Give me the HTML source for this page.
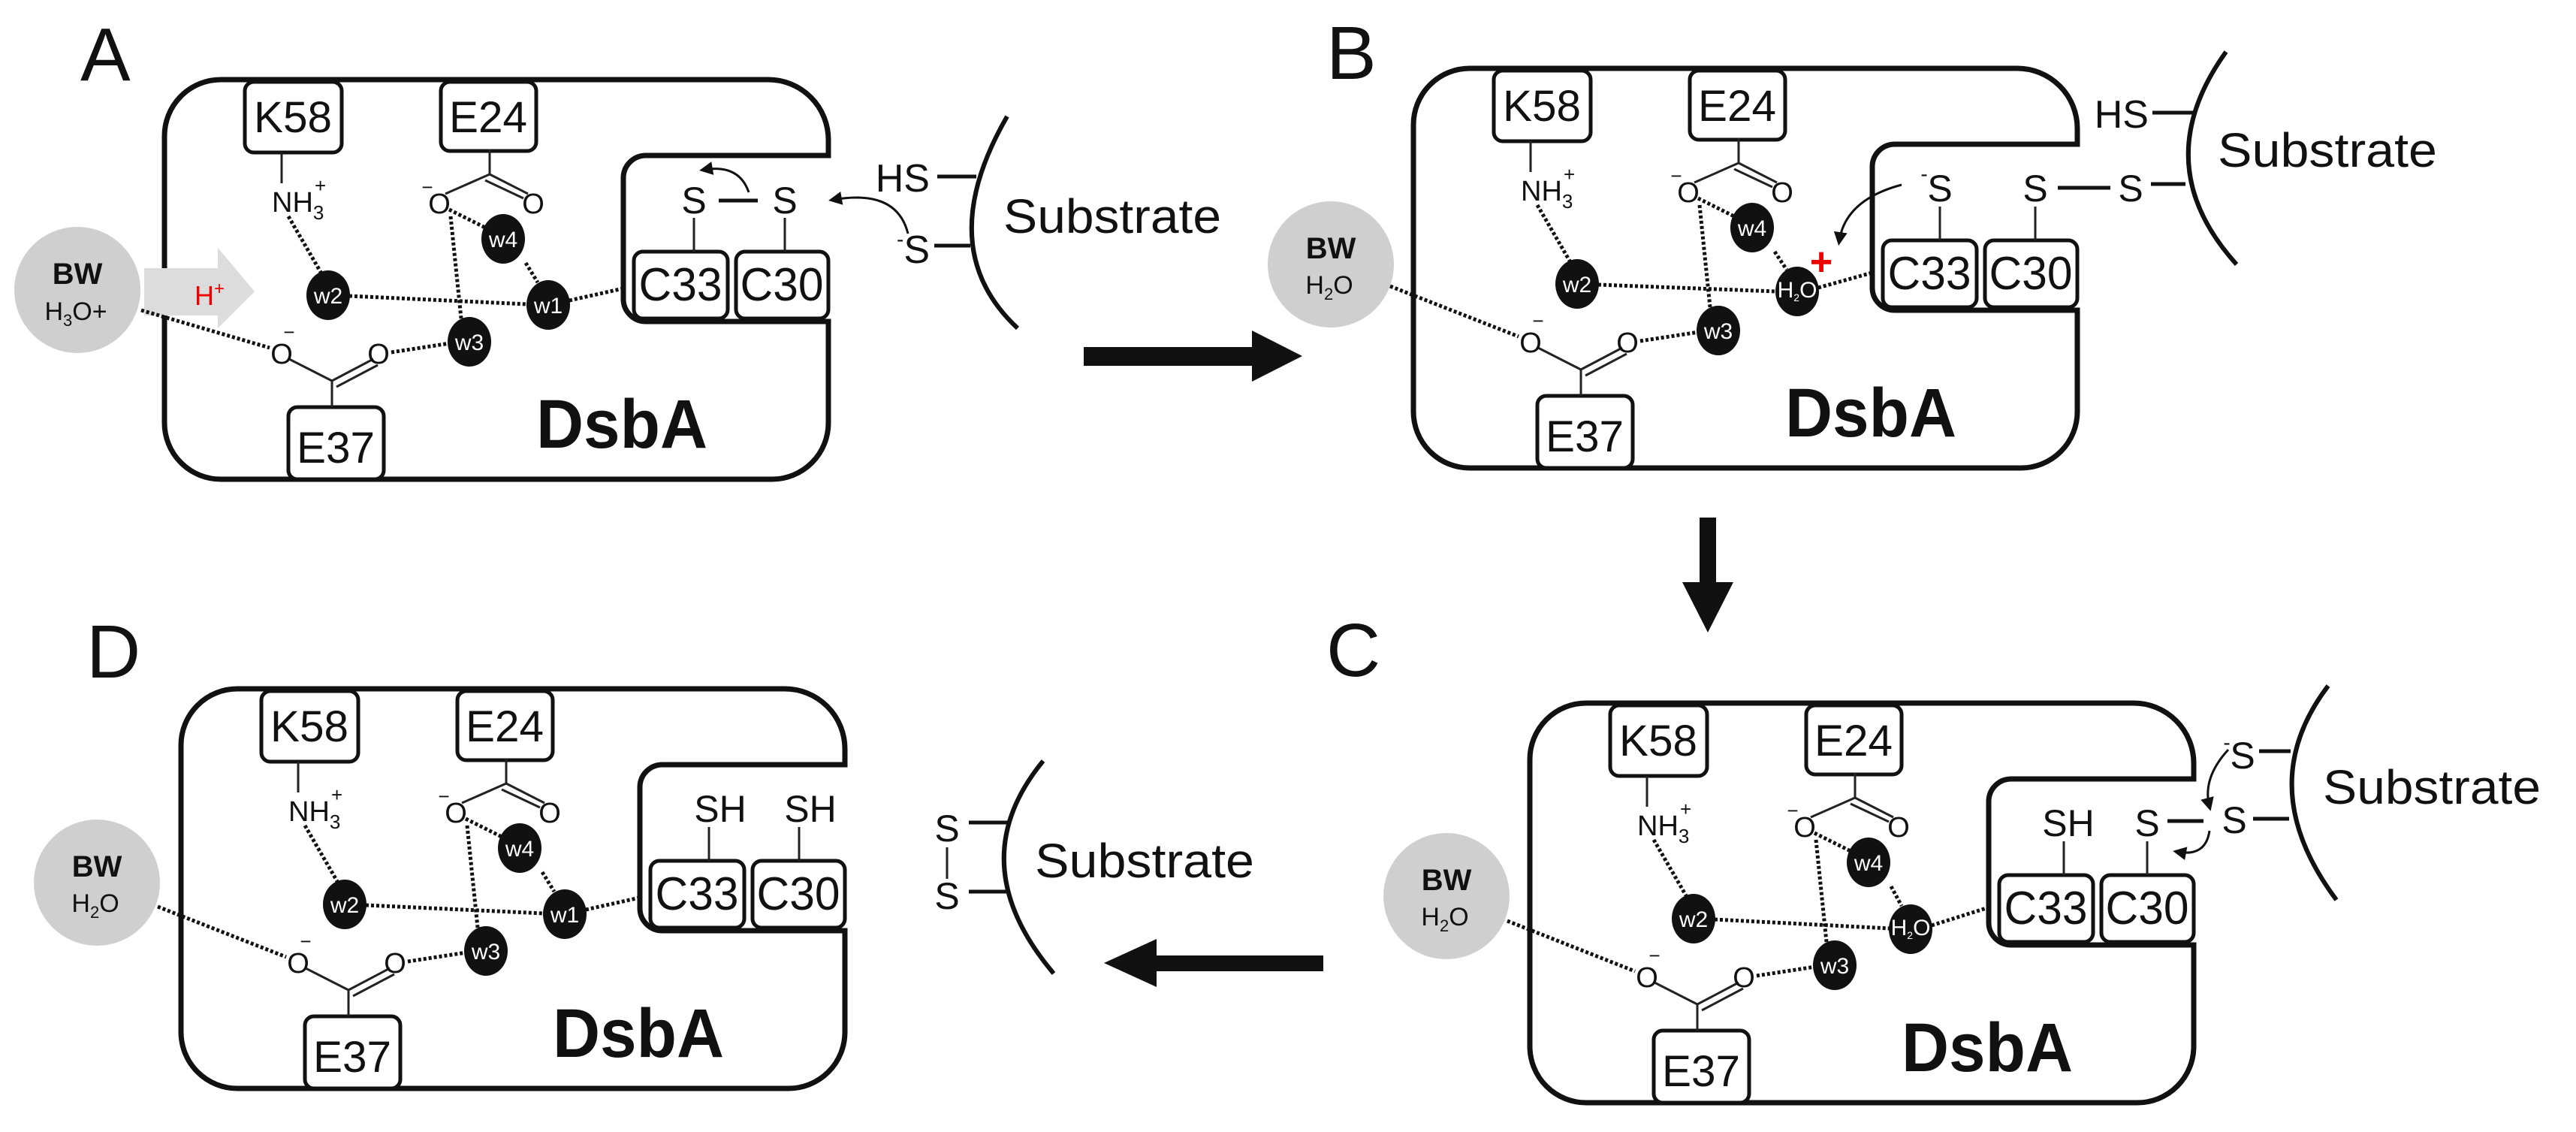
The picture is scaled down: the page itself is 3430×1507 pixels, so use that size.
<!DOCTYPE html>
<html><head><meta charset="utf-8"><style>
html,body{margin:0;padding:0;background:#fff}
svg{display:block}
text{font-family:"Liberation Sans",Arial,sans-serif;fill:#111}
.box{fill:#fff;stroke:#111;stroke-width:7}
.res{fill:#fff;stroke:#111;stroke-width:5}
.ln{stroke:#222;stroke-width:3;fill:none}
.bd{stroke:#111;stroke-width:5;fill:none}
.dot{stroke:#111;stroke-width:5;stroke-dasharray:4 3;fill:none}
.w{fill:#111}
.wt{fill:#fff;font-size:30px;text-anchor:middle}
.bw{fill:#cfcfcf}
.mid{text-anchor:middle}
.arc{stroke:#111;stroke-width:6;fill:none}
.ca{stroke:#111;stroke-width:3;fill:none;marker-end:url(#ah)}
</style></head><body>
<svg width="3430" height="1507" viewBox="0 0 3430 1507" xmlns="http://www.w3.org/2000/svg">
<defs>
<marker id="ah" markerWidth="6" markerHeight="6" refX="4" refY="3" orient="auto" markerUnits="strokeWidth">
<path d="M0,0 L6,3 L0,6 Z" fill="#111"/></marker>
</defs>

<!-- labels -->
<text x="107" y="107" font-size="100">A</text>
<text x="1766" y="105" font-size="100">B</text>
<text x="1766" y="900" font-size="100">C</text>
<text x="115" y="902" font-size="100">D</text>

<!-- big arrows -->
<polygon points="1443,462 1667,462 1667,440 1734,474 1667,508 1667,487 1443,487" fill="#111"/>
<polygon points="2263,689 2285,689 2285,775 2308,775 2274,842 2240,775 2263,775" fill="#111"/>
<polygon points="1762,1272 1540,1272 1540,1250 1470,1282 1540,1314 1540,1293 1762,1293" fill="#111"/>

<!-- ================= PANEL A ================= -->
<g transform="translate(219,106)">
<path class="box" d="M75,0 H804 A80,80 0 0 1 884,80 V101 H641 A30,30 0 0 0 611,131 V292 A30,30 0 0 0 641,322 H884 V457 A75,75 0 0 1 809,532 H75 A75,75 0 0 1 0,457 V75 A75,75 0 0 1 75,0 Z"/>
<circle class="bw" cx="-116" cy="280" r="84"/>
<polygon points="-27,251 71,251 71,224 120,282 71,331 71,314 -27,314" fill="#dcdcdc"/>
<text x="40" y="300" font-size="36" fill="#e00" style="fill:#e00">H<tspan font-size="24" dy="-14">+</tspan></text>
<text x="-116" y="272" font-size="40" font-weight="bold" class="mid">BW</text>
<text x="-118" y="320" font-size="34" class="mid">H<tspan font-size="22" dy="8">3</tspan><tspan dy="-8">O+</tspan></text>
<rect class="res" x="107" y="3" width="129" height="94" rx="12"/>
<rect class="res" x="368" y="3" width="127" height="92" rx="12"/>
<rect class="res" x="165" y="436" width="127" height="96" rx="12"/>
<rect class="res" x="625" y="229" width="125" height="89" rx="12"/>
<rect class="res" x="761" y="229" width="123" height="89" rx="12"/>
<text x="171" y="70" font-size="58" class="mid" textLength="104" lengthAdjust="spacingAndGlyphs">K58</text>
<text x="431" y="70" font-size="58" class="mid" textLength="104" lengthAdjust="spacingAndGlyphs">E24</text>
<text x="228" y="510" font-size="58" class="mid" textLength="104" lengthAdjust="spacingAndGlyphs">E37</text>
<text x="687" y="294" font-size="62" class="mid" textLength="111" lengthAdjust="spacingAndGlyphs">C33</text>
<text x="822" y="294" font-size="62" class="mid" textLength="111" lengthAdjust="spacingAndGlyphs">C30</text>
<line class="ln" x1="156" y1="97" x2="156" y2="138"/>
<text x="143" y="176" font-size="38">NH<tspan font-size="26" dy="10">3</tspan></text>
<text x="200" y="150" font-size="26">+</text>
<line class="ln" x1="433" y1="93" x2="433" y2="126"/>
<line class="ln" x1="433" y1="126" x2="374" y2="152"/>
<line class="ln" x1="433" y1="126" x2="484" y2="152"/><line class="ln" x1="427" y1="134" x2="478" y2="158"/>
<text x="366" y="178" font-size="38" class="mid">O</text><text x="350" y="152" font-size="26" class="mid">−</text>
<text x="491" y="178" font-size="38" class="mid">O</text>
<line class="ln" x1="223" y1="436" x2="223" y2="401"/>
<line class="ln" x1="223" y1="401" x2="166" y2="372"/>
<line class="ln" x1="223" y1="401" x2="278" y2="372"/><line class="ln" x1="229" y1="409" x2="284" y2="380"/>
<text x="156" y="378" font-size="38" class="mid">O</text><text x="166" y="345" font-size="26" class="mid">−</text>
<text x="285" y="378" font-size="38" class="mid">O</text>
<line class="dot" x1="-31" y1="307" x2="140" y2="357"/>
<line class="dot" x1="165" y1="182" x2="209" y2="258"/>
<line class="dot" x1="246" y1="288" x2="483" y2="299"/>
<line class="dot" x1="381" y1="182" x2="395" y2="318"/>
<line class="dot" x1="379" y1="173" x2="429" y2="198"/>
<line class="dot" x1="481" y1="244" x2="497" y2="270"/>
<line class="dot" x1="539" y1="294" x2="611" y2="278"/>
<line class="dot" x1="302" y1="363" x2="380" y2="351"/>
<ellipse class="w" cx="218" cy="287" rx="29" ry="33"/><text class="wt" x="218" y="298">w2</text>
<ellipse class="w" cx="511" cy="300" rx="29" ry="33"/><text class="wt" x="511" y="311">w1</text>
<ellipse class="w" cx="406" cy="349" rx="29" ry="33"/><text class="wt" x="406" y="360">w3</text>
<ellipse class="w" cx="451" cy="212" rx="29" ry="33"/><text class="wt" x="451" y="223">w4</text>
<text x="495" y="490" font-size="92" font-weight="bold" textLength="228" lengthAdjust="spacingAndGlyphs">DsbA</text>
<text x="705" y="178" font-size="50" class="mid">S</text>
<text x="826" y="178" font-size="50" class="mid">S</text>
<line class="bd" x1="738" y1="161" x2="790" y2="161"/>
<line class="ln" x1="705" y1="184" x2="705" y2="229"/>
<line class="ln" x1="826" y1="184" x2="826" y2="229"/>
<path class="ca" d="M778,150 Q765,112 718,120"/>
<path class="ca" d="M990,205 Q975,145 890,160"/>
</g>
<path class="arc" d="M1341,155 Q1240,330 1355,437"/>
<line class="bd" x1="1248" y1="235" x2="1300" y2="235"/>
<line class="bd" x1="1244" y1="327" x2="1292" y2="327"/>
<text x="1238" y="255" font-size="52" text-anchor="end">HS</text>
<text x="1238" y="350" font-size="52" text-anchor="end"><tspan font-size="28" dy="-22">-</tspan><tspan dy="22">S</tspan></text>
<text x="1336" y="310" font-size="64" textLength="290" lengthAdjust="spacingAndGlyphs">Substrate</text>

<!-- ================= PANEL B ================= -->
<g transform="translate(1882,91)">
<path class="box" d="M75,0 H804 A80,80 0 0 1 884,80 V101 H641 A30,30 0 0 0 611,131 V292 A30,30 0 0 0 641,322 H884 V457 A75,75 0 0 1 809,532 H75 A75,75 0 0 1 0,457 V75 A75,75 0 0 1 75,0 Z"/>
<circle class="bw" cx="-110" cy="261" r="84"/>
<text x="-110" y="253" font-size="40" font-weight="bold" class="mid">BW</text>
<text x="-112" y="300" font-size="34" class="mid">H<tspan font-size="22" dy="8">2</tspan><tspan dy="-8">O</tspan></text>
<rect class="res" x="107" y="3" width="129" height="94" rx="12"/>
<rect class="res" x="368" y="3" width="127" height="92" rx="12"/>
<rect class="res" x="165" y="436" width="127" height="96" rx="12"/>
<rect class="res" x="625" y="229" width="125" height="89" rx="12"/>
<rect class="res" x="761" y="229" width="123" height="89" rx="12"/>
<text x="171" y="70" font-size="58" class="mid" textLength="104" lengthAdjust="spacingAndGlyphs">K58</text>
<text x="431" y="70" font-size="58" class="mid" textLength="104" lengthAdjust="spacingAndGlyphs">E24</text>
<text x="228" y="510" font-size="58" class="mid" textLength="104" lengthAdjust="spacingAndGlyphs">E37</text>
<text x="687" y="294" font-size="62" class="mid" textLength="111" lengthAdjust="spacingAndGlyphs">C33</text>
<text x="822" y="294" font-size="62" class="mid" textLength="111" lengthAdjust="spacingAndGlyphs">C30</text>
<line class="ln" x1="156" y1="97" x2="156" y2="138"/>
<text x="143" y="176" font-size="38">NH<tspan font-size="26" dy="10">3</tspan></text>
<text x="200" y="150" font-size="26">+</text>
<line class="ln" x1="433" y1="93" x2="433" y2="126"/>
<line class="ln" x1="433" y1="126" x2="374" y2="152"/>
<line class="ln" x1="433" y1="126" x2="484" y2="152"/><line class="ln" x1="427" y1="134" x2="478" y2="158"/>
<text x="366" y="178" font-size="38" class="mid">O</text><text x="350" y="152" font-size="26" class="mid">−</text>
<text x="491" y="178" font-size="38" class="mid">O</text>
<line class="ln" x1="223" y1="436" x2="223" y2="401"/>
<line class="ln" x1="223" y1="401" x2="166" y2="372"/>
<line class="ln" x1="223" y1="401" x2="278" y2="372"/><line class="ln" x1="229" y1="409" x2="284" y2="380"/>
<text x="156" y="378" font-size="38" class="mid">O</text><text x="166" y="345" font-size="26" class="mid">−</text>
<text x="285" y="378" font-size="38" class="mid">O</text>
<line class="dot" x1="-31" y1="290" x2="140" y2="357"/>
<line class="dot" x1="165" y1="182" x2="209" y2="258"/>
<line class="dot" x1="246" y1="288" x2="483" y2="297"/>
<line class="dot" x1="381" y1="182" x2="395" y2="318"/>
<line class="dot" x1="379" y1="173" x2="429" y2="198"/>
<line class="dot" x1="481" y1="244" x2="497" y2="268"/>
<line class="dot" x1="539" y1="292" x2="611" y2="272"/>
<line class="dot" x1="302" y1="363" x2="380" y2="351"/>
<ellipse class="w" cx="218" cy="287" rx="29" ry="33"/><text class="wt" x="218" y="298">w2</text>
<ellipse class="w" cx="511" cy="297" rx="29" ry="33"/><text class="wt" x="511" y="305" font-size="22">H<tspan font-size="14" dy="5">2</tspan><tspan dy="-5">O</tspan></text>
<ellipse class="w" cx="406" cy="349" rx="29" ry="33"/><text class="wt" x="406" y="360">w3</text>
<ellipse class="w" cx="451" cy="212" rx="29" ry="33"/><text class="wt" x="451" y="223">w4</text>
<text x="543" y="275" font-size="52" font-weight="bold" class="mid" style="fill:#e00">+</text>
<text x="495" y="490" font-size="92" font-weight="bold" textLength="228" lengthAdjust="spacingAndGlyphs">DsbA</text>
<text x="701" y="177" font-size="50" class="mid">S</text><text x="680" y="150" font-size="28" class="mid">-</text>
<text x="828" y="177" font-size="50" class="mid">S</text>
<line class="bd" x1="858" y1="159" x2="928" y2="159"/>
<line class="ln" x1="701" y1="184" x2="701" y2="229"/>
<line class="ln" x1="828" y1="184" x2="828" y2="229"/>
<path class="ca" d="M650,155 Q575,175 567,230"/>
</g>
<text x="2837" y="268" font-size="50" class="mid">S</text>
<path class="arc" d="M2964,69 Q2857,218 2978,352"/>
<line class="bd" x1="2866" y1="150" x2="2920" y2="150"/>
<line class="bd" x1="2864" y1="245" x2="2910" y2="245"/>
<text x="2861" y="170" font-size="52" text-anchor="end">HS</text>
<text x="2953" y="222" font-size="64" textLength="292" lengthAdjust="spacingAndGlyphs">Substrate</text>

<!-- ================= PANEL C ================= -->
<g transform="translate(2037,936)">
<path class="box" d="M75,0 H804 A80,80 0 0 1 884,80 V101 H641 A30,30 0 0 0 611,131 V292 A30,30 0 0 0 641,322 H884 V457 A75,75 0 0 1 809,532 H75 A75,75 0 0 1 0,457 V75 A75,75 0 0 1 75,0 Z"/>
<circle class="bw" cx="-111" cy="257" r="84"/>
<text x="-111" y="249" font-size="40" font-weight="bold" class="mid">BW</text>
<text x="-113" y="296" font-size="34" class="mid">H<tspan font-size="22" dy="8">2</tspan><tspan dy="-8">O</tspan></text>
<rect class="res" x="107" y="3" width="129" height="94" rx="12"/>
<rect class="res" x="368" y="3" width="127" height="92" rx="12"/>
<rect class="res" x="165" y="436" width="127" height="96" rx="12"/>
<rect class="res" x="625" y="229" width="125" height="89" rx="12"/>
<rect class="res" x="761" y="229" width="123" height="89" rx="12"/>
<text x="171" y="70" font-size="58" class="mid" textLength="104" lengthAdjust="spacingAndGlyphs">K58</text>
<text x="431" y="70" font-size="58" class="mid" textLength="104" lengthAdjust="spacingAndGlyphs">E24</text>
<text x="228" y="510" font-size="58" class="mid" textLength="104" lengthAdjust="spacingAndGlyphs">E37</text>
<text x="687" y="294" font-size="62" class="mid" textLength="111" lengthAdjust="spacingAndGlyphs">C33</text>
<text x="822" y="294" font-size="62" class="mid" textLength="111" lengthAdjust="spacingAndGlyphs">C30</text>
<line class="ln" x1="156" y1="97" x2="156" y2="138"/>
<text x="143" y="176" font-size="38">NH<tspan font-size="26" dy="10">3</tspan></text>
<text x="200" y="150" font-size="26">+</text>
<line class="ln" x1="433" y1="93" x2="433" y2="126"/>
<line class="ln" x1="433" y1="126" x2="374" y2="152"/>
<line class="ln" x1="433" y1="126" x2="484" y2="152"/><line class="ln" x1="427" y1="134" x2="478" y2="158"/>
<text x="366" y="178" font-size="38" class="mid">O</text><text x="350" y="152" font-size="26" class="mid">−</text>
<text x="491" y="178" font-size="38" class="mid">O</text>
<line class="ln" x1="223" y1="436" x2="223" y2="401"/>
<line class="ln" x1="223" y1="401" x2="166" y2="372"/>
<line class="ln" x1="223" y1="401" x2="278" y2="372"/><line class="ln" x1="229" y1="409" x2="284" y2="380"/>
<text x="156" y="378" font-size="38" class="mid">O</text><text x="166" y="345" font-size="26" class="mid">−</text>
<text x="285" y="378" font-size="38" class="mid">O</text>
<line class="dot" x1="-30" y1="290" x2="140" y2="357"/>
<line class="dot" x1="165" y1="182" x2="209" y2="258"/>
<line class="dot" x1="246" y1="288" x2="479" y2="300"/>
<line class="dot" x1="381" y1="182" x2="395" y2="318"/>
<line class="dot" x1="379" y1="173" x2="429" y2="198"/>
<line class="dot" x1="481" y1="244" x2="495" y2="270"/>
<line class="dot" x1="535" y1="296" x2="611" y2="272"/>
<line class="dot" x1="302" y1="363" x2="380" y2="351"/>
<ellipse class="w" cx="218" cy="287" rx="29" ry="33"/><text class="wt" x="218" y="298">w2</text>
<ellipse class="w" cx="507" cy="301" rx="29" ry="33"/><text class="wt" x="507" y="309" font-size="22">H<tspan font-size="14" dy="5">2</tspan><tspan dy="-5">O</tspan></text>
<ellipse class="w" cx="406" cy="349" rx="29" ry="33"/><text class="wt" x="406" y="360">w3</text>
<ellipse class="w" cx="451" cy="212" rx="29" ry="33"/><text class="wt" x="451" y="223">w4</text>
<text x="495" y="490" font-size="92" font-weight="bold" textLength="228" lengthAdjust="spacingAndGlyphs">DsbA</text>
<text x="717" y="177" font-size="50" class="mid">SH</text>
<text x="822" y="177" font-size="50" class="mid">S</text>
<line class="bd" x1="849" y1="157" x2="897" y2="157"/>
<line class="ln" x1="711" y1="184" x2="711" y2="229"/>
<line class="ln" x1="822" y1="184" x2="822" y2="229"/>
<path class="ca" d="M930,62 Q895,100 905,138"/>
<path class="ca" d="M905,170 Q900,205 862,198"/>
</g>
<text x="2975" y="1109" font-size="50" class="mid">S</text>
<text x="2986" y="1023" font-size="50" class="mid">S</text><text x="2965" y="998" font-size="28" class="mid">-</text>
<path class="arc" d="M3100,913 Q2998,1047 3111,1198"/>
<line class="bd" x1="3008" y1="1000" x2="3050" y2="1000"/>
<line class="bd" x1="3000" y1="1090" x2="3048" y2="1090"/>
<text x="3093" y="1070" font-size="64" textLength="290" lengthAdjust="spacingAndGlyphs">Substrate</text>

<!-- ================= PANEL D ================= -->
<g transform="translate(241,917)">
<path class="box" d="M75,0 H804 A80,80 0 0 1 884,80 V101 H641 A30,30 0 0 0 611,131 V292 A30,30 0 0 0 641,322 H884 V457 A75,75 0 0 1 809,532 H75 A75,75 0 0 1 0,457 V75 A75,75 0 0 1 75,0 Z"/>
<circle class="bw" cx="-112" cy="258" r="84"/>
<text x="-112" y="250" font-size="40" font-weight="bold" class="mid">BW</text>
<text x="-114" y="297" font-size="34" class="mid">H<tspan font-size="22" dy="8">2</tspan><tspan dy="-8">O</tspan></text>
<rect class="res" x="107" y="3" width="129" height="94" rx="12"/>
<rect class="res" x="368" y="3" width="127" height="92" rx="12"/>
<rect class="res" x="165" y="436" width="127" height="96" rx="12"/>
<rect class="res" x="625" y="229" width="125" height="89" rx="12"/>
<rect class="res" x="761" y="229" width="123" height="89" rx="12"/>
<text x="171" y="70" font-size="58" class="mid" textLength="104" lengthAdjust="spacingAndGlyphs">K58</text>
<text x="431" y="70" font-size="58" class="mid" textLength="104" lengthAdjust="spacingAndGlyphs">E24</text>
<text x="228" y="510" font-size="58" class="mid" textLength="104" lengthAdjust="spacingAndGlyphs">E37</text>
<text x="687" y="294" font-size="62" class="mid" textLength="111" lengthAdjust="spacingAndGlyphs">C33</text>
<text x="822" y="294" font-size="62" class="mid" textLength="111" lengthAdjust="spacingAndGlyphs">C30</text>
<line class="ln" x1="156" y1="97" x2="156" y2="138"/>
<text x="143" y="176" font-size="38">NH<tspan font-size="26" dy="10">3</tspan></text>
<text x="200" y="150" font-size="26">+</text>
<line class="ln" x1="433" y1="93" x2="433" y2="126"/>
<line class="ln" x1="433" y1="126" x2="374" y2="152"/>
<line class="ln" x1="433" y1="126" x2="484" y2="152"/><line class="ln" x1="427" y1="134" x2="478" y2="158"/>
<text x="366" y="178" font-size="38" class="mid">O</text><text x="350" y="152" font-size="26" class="mid">−</text>
<text x="491" y="178" font-size="38" class="mid">O</text>
<line class="ln" x1="223" y1="436" x2="223" y2="401"/>
<line class="ln" x1="223" y1="401" x2="166" y2="372"/>
<line class="ln" x1="223" y1="401" x2="278" y2="372"/><line class="ln" x1="229" y1="409" x2="284" y2="380"/>
<text x="156" y="378" font-size="38" class="mid">O</text><text x="166" y="345" font-size="26" class="mid">−</text>
<text x="285" y="378" font-size="38" class="mid">O</text>
<line class="dot" x1="-31" y1="290" x2="140" y2="357"/>
<line class="dot" x1="165" y1="182" x2="209" y2="258"/>
<line class="dot" x1="246" y1="288" x2="483" y2="299"/>
<line class="dot" x1="381" y1="182" x2="395" y2="318"/>
<line class="dot" x1="379" y1="173" x2="429" y2="198"/>
<line class="dot" x1="481" y1="244" x2="497" y2="270"/>
<line class="dot" x1="539" y1="294" x2="611" y2="278"/>
<line class="dot" x1="302" y1="363" x2="380" y2="351"/>
<ellipse class="w" cx="218" cy="287" rx="29" ry="33"/><text class="wt" x="218" y="298">w2</text>
<ellipse class="w" cx="511" cy="300" rx="29" ry="33"/><text class="wt" x="511" y="311">w1</text>
<ellipse class="w" cx="406" cy="349" rx="29" ry="33"/><text class="wt" x="406" y="360">w3</text>
<ellipse class="w" cx="451" cy="212" rx="29" ry="33"/><text class="wt" x="451" y="223">w4</text>
<text x="495" y="490" font-size="92" font-weight="bold" textLength="228" lengthAdjust="spacingAndGlyphs">DsbA</text>
<text x="718" y="177" font-size="50" class="mid">SH</text>
<text x="838" y="177" font-size="50" class="mid">SH</text>
<line class="ln" x1="703" y1="184" x2="703" y2="229"/>
<line class="ln" x1="823" y1="184" x2="823" y2="229"/>
</g>
<text x="1261" y="1120" font-size="50" class="mid">S</text>
<text x="1261" y="1210" font-size="50" class="mid">S</text>
<line class="ln" x1="1261" y1="1128" x2="1261" y2="1170"/>
<path class="arc" d="M1389,1013 Q1278,1148 1403,1296"/>
<line class="bd" x1="1290" y1="1095" x2="1343" y2="1095"/>
<line class="bd" x1="1290" y1="1187" x2="1340" y2="1187"/>
<text x="1378" y="1168" font-size="64" textLength="292" lengthAdjust="spacingAndGlyphs">Substrate</text>
</svg>
</body></html>
